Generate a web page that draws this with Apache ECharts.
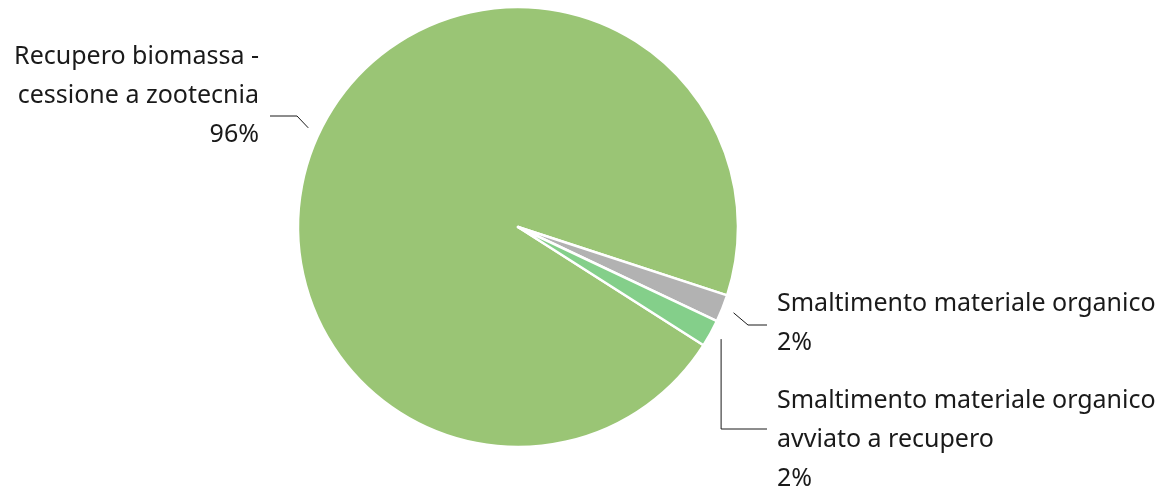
<!DOCTYPE html>
<html>
<head>
<meta charset="utf-8">
<script src="https://cdn.jsdelivr.net/npm/echarts@6/dist/echarts.min.js"></script>
<style>
html,body{margin:0;padding:0;background:#fff;}
#chart{width:1164px;height:486px;}
</style>
</head>
<body>
<div id="chart"></div>
<script>
const categories = [
  "Recupero biomassa -\ncessione a zootecnia",
  "Smaltimento materiale organico",
  "Smaltimento materiale organico\navviato a recupero"
];
const values = [96, 2, 2];
const colors = ["#9AC575", "#B2B2B2", "#84CF8A"];

const CX = 518, CY = 227, R = 220;
const chart = echarts.init(document.getElementById('chart'), null, {renderer: 'canvas'});

function startPoint(params) {
  const p = params.labelLinePoints[0];
  const dx = p[0] - CX, dy = p[1] - CY;
  const d = Math.sqrt(dx*dx + dy*dy) || 1;
  const r = R + 12;
  return [CX + dx / d * r, CY + dy / d * r];
}

chart.setOption({
  animation: false,
  backgroundColor: '#ffffff',
  series: [{
    type: 'pie',
    center: [CX, CY],
    radius: R,
    startAngle: -32.5,
    clockwise: true,
    avoidLabelOverlap: false,
    data: categories.map((c, i) => ({name: c, value: values[i], itemStyle: {color: colors[i]}})),
    itemStyle: {borderColor: '#ffffff', borderWidth: 2.5},
    label: {
      show: true,
      position: 'outside',
      formatter: p => p.name + '\n' + Math.round(p.percent) + '%',
      fontFamily: 'Noto Sans',
      fontSize: 25,
      lineHeight: 39,
      color: '#1a1a1a'
    },
    labelLine: {show: true, lineStyle: {color: '#1a1a1a', width: 1}},
    labelLayout: function (params) {
      const s = startPoint(params);
      const i = params.dataIndex;
      if (i === 0) {
        return {x: 259, y: 37, align: 'right', verticalAlign: 'top',
          labelLinePoints: [s, [297, 116], [270, 116]]};
      } else if (i === 1) {
        return {x: 777, y: 284, align: 'left', verticalAlign: 'top',
          labelLinePoints: [s, [748, 325], [767, 325]]};
      } else {
        return {x: 777, y: 381, align: 'left', verticalAlign: 'top',
          labelLinePoints: [s, [s[0], 429], [767, 429]]};
      }
    }
  }]
});
</script>
</body>
</html>
